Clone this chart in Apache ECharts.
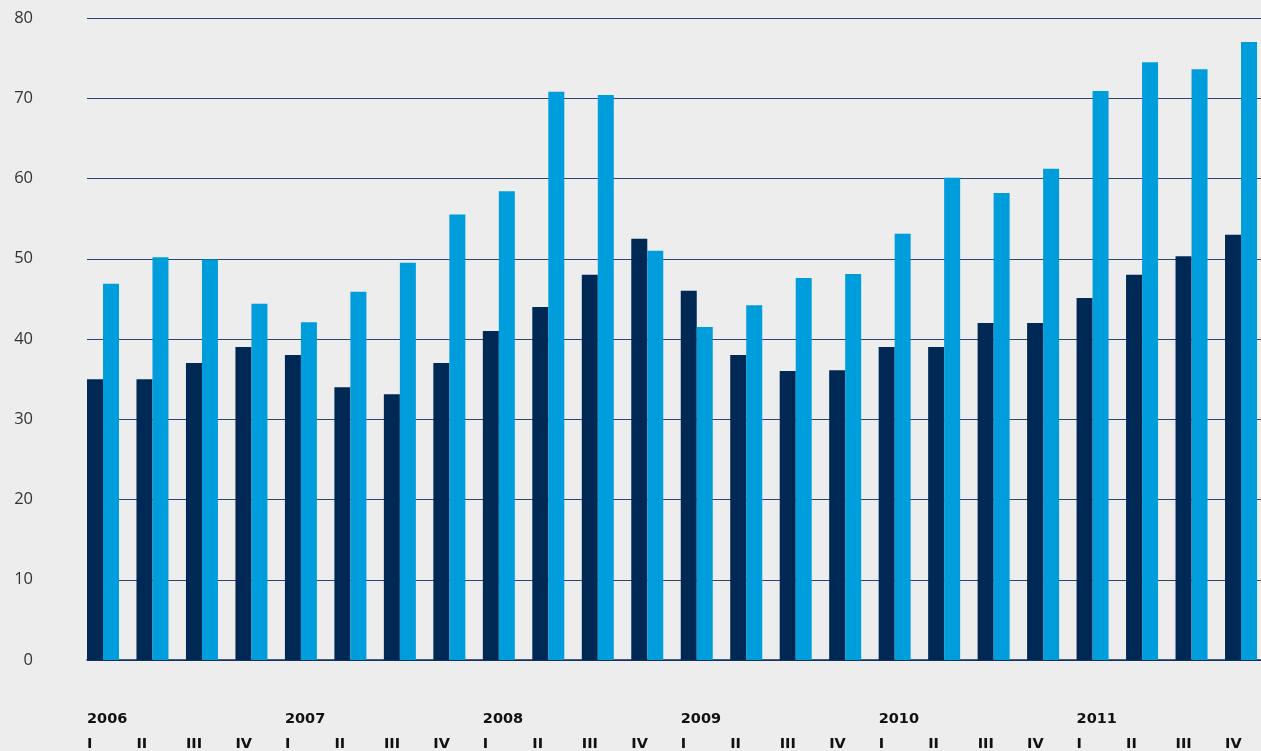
<!DOCTYPE html>
<html>
<head>
<meta charset="utf-8">
<script src="https://cdn.jsdelivr.net/npm/echarts@6/dist/echarts.min.js"></script>
<style>
html,body{margin:0;padding:0;background:#ededed;}
#chart{width:1261px;height:751px;}
</style>
</head>
<body>
<div id="chart"></div>
<script>
// Data
const years = ['2006','2007','2008','2009','2010','2011'];
const quarters = ['I','II','III','IV'];
const darkValues = [35,35,37,39, 38,34,33.1,37, 41,44,48,52.5, 46,38,36,36.1, 39,39,42,42, 45.1,48,50.3,53];
const lightValues = [46.9,50.2,49.9,44.4, 42.1,45.9,49.5,55.5, 58.4,70.8,70.4,51.0, 41.5,44.2,47.6,48.1, 53.1,60.1,58.2,61.2, 70.9,74.5,73.6,77.0];
const yTicks = [0,10,20,30,40,50,60,70,80];

const categories = [];
years.forEach(y => quarters.forEach(q => categories.push(y + ' ' + q)));
// label axis: boundaries of each category (25 ticks)
const labelCats = categories.concat(['']);

const chart = echarts.init(document.getElementById('chart'));
chart.setOption({
  backgroundColor: '#ededed',
  animation: false,
  grid: {left: 87, top: 18, width: 1187.5, height: 642, containLabel: false, outerBoundsMode: 'none'},
  xAxis: [
    {
      type: 'category',
      data: categories,
      position: 'bottom',
      axisLine: {show: true, onZero: true, lineStyle: {color: '#0e2f5a', width: 1.5}},
      axisTick: {show: false},
      axisLabel: {show: false},
      splitLine: {show: false}
    },
    {
      type: 'category',
      data: labelCats,
      position: 'bottom',
      boundaryGap: false,
      axisLine: {show: false},
      axisTick: {show: false},
      splitLine: {show: false},
      axisLabel: {
        show: true,
        interval: 0,
        margin: 47,
        align: 'left',
        verticalAlign: 'top',
        formatter: function (v) {
          if (!v) return '';
          const parts = v.split(' ');
          const isFirst = parts[1] === 'I';
          return '{y|' + (isFirst ? parts[0] : ' ') + '}\n{q|' + parts[1] + '}';
        },
        rich: {
          y: {fontFamily: 'DejaVu Sans', fontWeight: 'bold', fontSize: 14.5, color: '#111', lineHeight: 25, align: 'left'},
          q: {fontFamily: 'DejaVu Sans', fontWeight: 'bold', fontSize: 14.5, color: '#111', lineHeight: 25, align: 'left'}
        }
      }
    }
  ],
  yAxis: {
    type: 'value',
    min: 0,
    max: 80,
    interval: 10,
    axisLine: {show: false},
    axisTick: {show: false},
    axisLabel: {
      margin: 54,
      fontFamily: 'Open Sans',
      fontSize: 16.5,
      color: '#333',
      formatter: function (v) { return yTicks.indexOf(v) >= 0 ? String(v) : ''; }
    },
    splitLine: {show: true, lineStyle: {color: '#2a4670', width: 1.2}}
  },
  series: [
    {
      type: 'bar',
      data: darkValues,
      barWidth: 16,
      barGap: '0%',
      itemStyle: {color: '#002855'},
      silent: true
    },
    {
      type: 'bar',
      data: lightValues,
      barWidth: 16,
      barGap: '0%',
      itemStyle: {color: '#009ddc'},
      silent: true
    },
    {
      type: 'bar',
      data: [],
      barWidth: 17.48,
      barGap: '0%',
      itemStyle: {color: 'rgba(0,0,0,0)'},
      silent: true
    }
  ]
});
</script>
</body>
</html>
